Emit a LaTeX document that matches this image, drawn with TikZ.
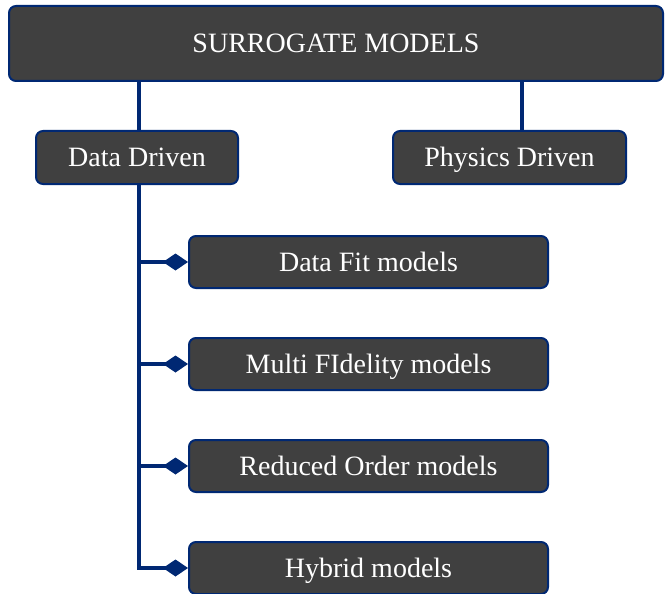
\documentclass[tikz,border=0pt]{standalone}
\usepackage{fontspec}
\setmainfont{Liberation Serif}
\usetikzlibrary{arrows.meta}
\definecolor{navy}{RGB}{0,40,115}
\definecolor{boxgray}{RGB}{64,64,64}
\tikzset{
  box/.style={draw=navy, line width=2pt, fill=boxgray, rounded corners=7pt,
    text=white, font=\fontsize{28}{32}\selectfont, anchor=north west, inner sep=0pt,
    text height=18.5pt, text depth=0pt},
  link/.style={draw=navy, line width=4pt},
  tiplink/.style={link, -{Diamond[length=25pt,width=17pt]}},
}
\begin{document}
\begin{tikzpicture}[x=1pt,y=-1pt]
\useasboundingbox (0,0) rectangle (665,594);
% top node and the two families
\node[box, minimum width=654pt, minimum height=75pt] (top) at (8,5) {SURROGATE MODELS};
\node[box, minimum width=202pt, minimum height=53pt] (dd) at (35,130) {Data Driven};
\node[box, minimum width=233pt, minimum height=53pt] (pd) at (392,130) {Physics Driven};
% data driven model classes
\node[box, minimum width=359pt, minimum height=52pt] (fit) at (188,235) {Data Fit models};
\node[box, minimum width=359pt, minimum height=52pt] (multi) at (188,337) {Multi FIdelity models};
\node[box, minimum width=359pt, minimum height=52pt] (rom) at (188,439) {Reduced Order models};
\node[box, minimum width=359pt, minimum height=52pt] (hyb) at (188,541) {Hybrid models};
% connectors
\coordinate (ddx) at (139,0);
\coordinate (pdx) at (522,0);
\draw[link] (top.south -| ddx) -- (dd.north -| ddx);
\draw[link] (top.south -| pdx) -- (pd.north -| pdx);
\foreach \n in {fit,multi,rom,hyb}
  \draw[tiplink] (dd.south -| ddx) |- (\n.west);
\end{tikzpicture}
\end{document}
